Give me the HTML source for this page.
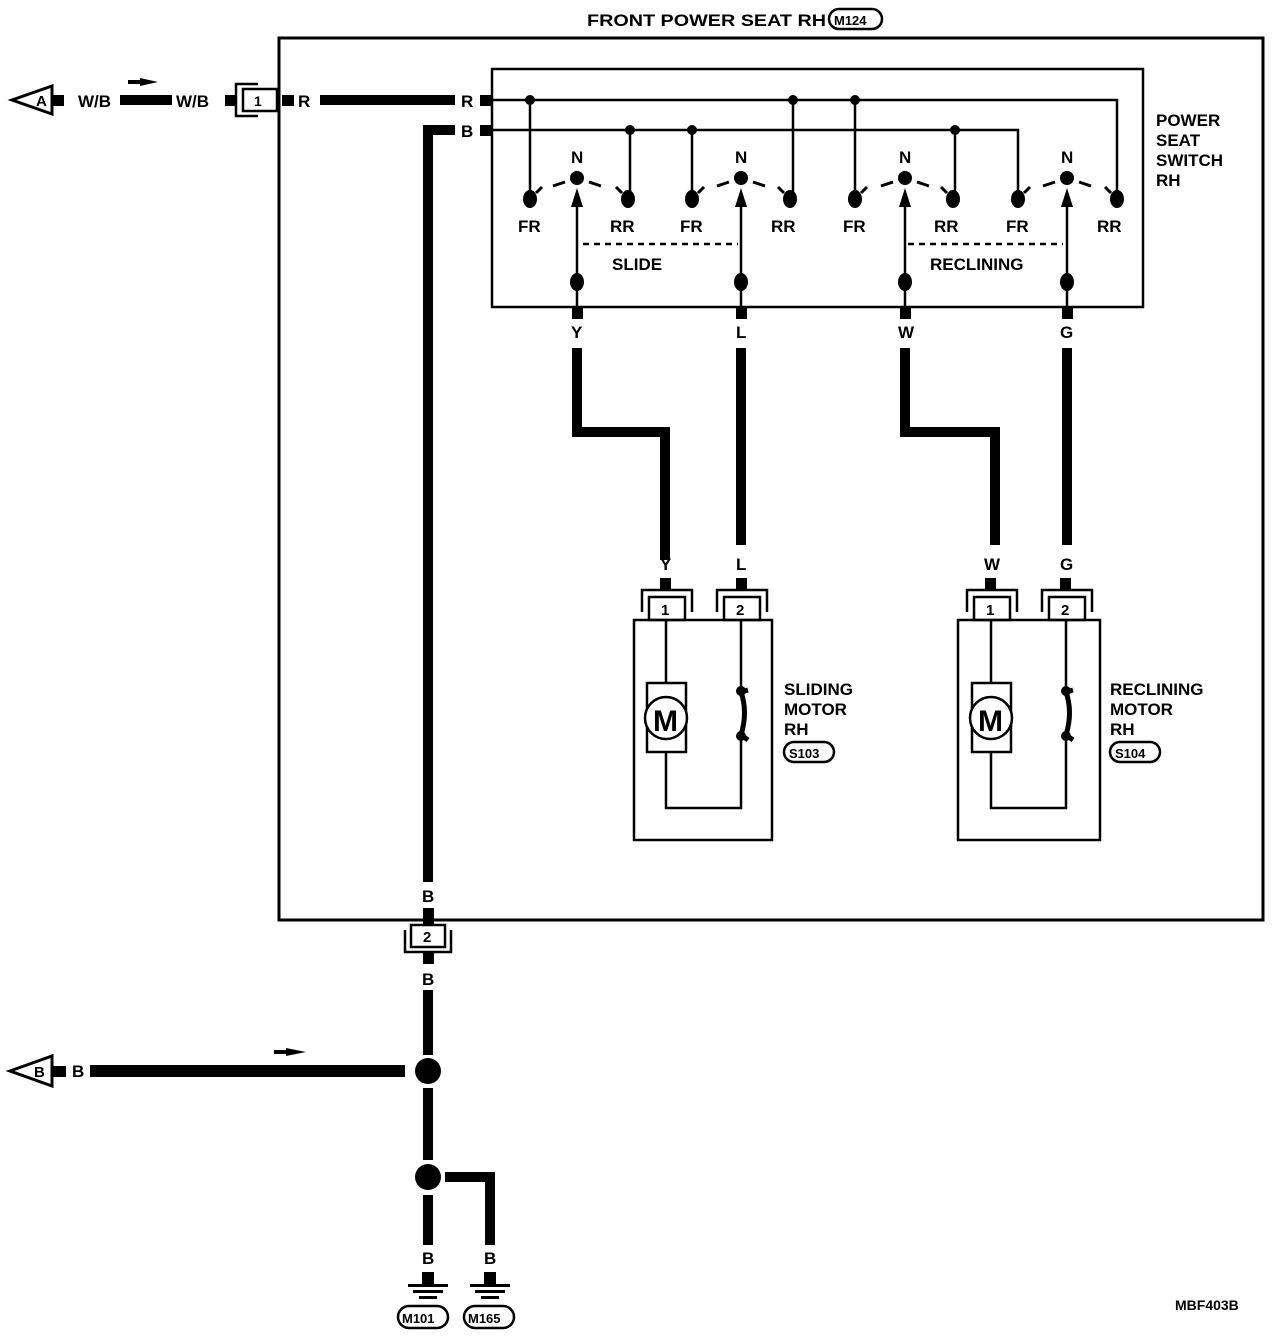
<!DOCTYPE html>
<html><head><meta charset="utf-8"><style>
html,body{margin:0;padding:0;background:#fff;}
svg{display:block;}
text{font-family:"Liberation Sans",Arial,sans-serif;fill:#000;font-weight:bold;}
</style></head><body>
<svg width="1280" height="1336" viewBox="0 0 1280 1336" xmlns="http://www.w3.org/2000/svg">
<g fill="none" stroke="#000">
<rect x="279" y="38" width="984" height="882" stroke-width="3"/>
<rect x="492" y="69" width="651" height="238" stroke-width="2.5"/>
<polyline points="490,100 1117,100 1117,198" stroke-width="2.5"/>
<polyline points="490,130 1018,130 1018,198" stroke-width="2.5"/>
<line x1="530" y1="100" x2="530" y2="198" stroke-width="2.5"/>
<line x1="793" y1="100" x2="793" y2="198" stroke-width="2.5"/>
<line x1="855" y1="100" x2="855" y2="198" stroke-width="2.5"/>
<line x1="630" y1="130" x2="630" y2="198" stroke-width="2.5"/>
<line x1="692" y1="130" x2="692" y2="198" stroke-width="2.5"/>
<line x1="955" y1="130" x2="955" y2="198" stroke-width="2.5"/>
<line x1="577" y1="307" x2="577" y2="195" stroke-width="2.5"/>
<line x1="741" y1="307" x2="741" y2="195" stroke-width="2.5"/>
<line x1="905" y1="307" x2="905" y2="195" stroke-width="2.5"/>
<line x1="1067" y1="307" x2="1067" y2="195" stroke-width="2.5"/>
<line x1="583" y1="244" x2="738" y2="244" stroke-width="2.5" stroke-dasharray="6,5"/>
<line x1="908" y1="244" x2="1063" y2="244" stroke-width="2.5" stroke-dasharray="6,5"/>
<line x1="320" y1="100" x2="455" y2="100" stroke-width="10"/>
<polyline points="455,130 428,130 428,882" stroke-width="10"/>
<line x1="120" y1="100" x2="172" y2="100" stroke-width="10"/>
<polyline points="577,348 577,432 665,432 665,560" stroke-width="10"/>
<line x1="741" y1="348" x2="741" y2="545" stroke-width="10"/>
<polyline points="905,348 905,432 995,432 995,545" stroke-width="10"/>
<line x1="1067" y1="348" x2="1067" y2="545" stroke-width="10"/>
<line x1="428" y1="990" x2="428" y2="1055" stroke-width="10"/>
<line x1="428" y1="1088" x2="428" y2="1160" stroke-width="10"/>
<line x1="428" y1="1195" x2="428" y2="1245" stroke-width="10"/>
<polyline points="445,1177 490,1177 490,1245" stroke-width="10"/>
<line x1="90" y1="1071" x2="405" y2="1071" stroke-width="12"/>
<rect x="634" y="620" width="138" height="220" stroke-width="2.5"/>
<rect x="958" y="620" width="142" height="220" stroke-width="2.5"/>
<polyline points="666,620 666,683" stroke-width="2.5"/>
<polyline points="666,752 666,808 741,808 741,735" stroke-width="2.5"/>
<polyline points="741,620 741,692" stroke-width="2.5"/>
<rect x="647" y="683" width="39" height="69" stroke-width="2.5" fill="#fff"/>
<circle cx="666" cy="718" r="21" stroke-width="2.5" fill="#fff"/>
<polyline points="991,620 991,683" stroke-width="2.5"/>
<polyline points="991,752 991,808 1066,808 1066,735" stroke-width="2.5"/>
<polyline points="1066,620 1066,692" stroke-width="2.5"/>
<rect x="972" y="683" width="39" height="69" stroke-width="2.5" fill="#fff"/>
<circle cx="991" cy="718" r="21" stroke-width="2.5" fill="#fff"/>
<path d="M741 692 L748 690 M741 692 Q748 712 741 735 L748 740" stroke-width="5"/>
<path d="M1066 692 L1073 690 M1066 692 Q1073 712 1066 735 L1073 740" stroke-width="5"/>
<g stroke-width="2.5">
<rect x="649" y="597" width="36" height="23"/><polyline points="642,612 642,590 692,590 692,612"/>
<rect x="724" y="597" width="36" height="23"/><polyline points="717,612 717,590 767,590 767,612"/>
<rect x="974" y="597" width="36" height="23"/><polyline points="967,612 967,590 1017,590 1017,612"/>
<rect x="1049" y="597" width="36" height="23"/><polyline points="1042,612 1042,590 1092,590 1092,612"/>
<rect x="243" y="89" width="34" height="22"/><polyline points="258,84 236,84 236,116 258,116"/>
<rect x="411" y="925" width="34" height="22"/><polyline points="405,930 405,952 451,952 451,930"/>
<polygon points="12,100 52,86 52,114" stroke-width="3"/>
<polygon points="10,1071 52,1056 52,1086" stroke-width="3"/>
<rect x="829" y="9" width="53" height="20" rx="10"/>
<rect x="784" y="742" width="50" height="20" rx="10"/>
<rect x="1110" y="742" width="50" height="20" rx="10"/>
<rect x="398" y="1306" width="50" height="22" rx="11"/>
<rect x="464" y="1306" width="50" height="22" rx="11"/>
</g>
</g>
<g fill="#000">
<rect x="52" y="95" width="12" height="11"/><rect x="225" y="95" width="10" height="11"/><rect x="282" y="95" width="12" height="11"/>
<rect x="480" y="95" width="12" height="11"/><rect x="480" y="125" width="12" height="11"/>
<rect x="572" y="307" width="11" height="12"/><rect x="736" y="307" width="11" height="12"/><rect x="900" y="307" width="11" height="12"/><rect x="1062" y="307" width="11" height="12"/>
<rect x="660" y="578" width="11" height="12"/><rect x="736" y="578" width="11" height="12"/><rect x="985" y="578" width="11" height="12"/><rect x="1060" y="578" width="11" height="12"/>
<rect x="423" y="908" width="11" height="17"/><rect x="423" y="952" width="11" height="12"/>
<rect x="52" y="1066" width="14" height="11"/>
<circle cx="530" cy="100" r="5"/><circle cx="793" cy="100" r="5"/><circle cx="855" cy="100" r="5"/>
<circle cx="630" cy="130" r="5"/><circle cx="692" cy="130" r="5"/><circle cx="955" cy="130" r="5"/>
<ellipse cx="530" cy="199" rx="7" ry="9"/><ellipse cx="628" cy="199" rx="7" ry="9"/>
<ellipse cx="692" cy="199" rx="7" ry="9"/><ellipse cx="790" cy="199" rx="7" ry="9"/>
<ellipse cx="855" cy="199" rx="7" ry="9"/><ellipse cx="953" cy="199" rx="7" ry="9"/>
<ellipse cx="1018" cy="199" rx="7" ry="9"/><ellipse cx="1117" cy="199" rx="7" ry="9"/>
<circle cx="577" cy="178" r="7"/><circle cx="741" cy="178" r="7"/><circle cx="905" cy="178" r="7"/><circle cx="1067" cy="178" r="7"/>
<ellipse cx="577" cy="282" rx="7" ry="9"/><ellipse cx="741" cy="282" rx="7" ry="9"/><ellipse cx="905" cy="282" rx="7" ry="9"/><ellipse cx="1067" cy="282" rx="7" ry="9"/>
<polygon points="577,188 571,207 583,207"/><polygon points="741,188 735,207 747,207"/><polygon points="905,188 899,207 911,207"/><polygon points="1067,188 1061,207 1073,207"/>
<circle cx="741" cy="691" r="5"/><circle cx="741" cy="736" r="5"/><circle cx="1066" cy="691" r="5"/><circle cx="1066" cy="736" r="5"/>
<circle cx="428" cy="1071" r="13"/><circle cx="428" cy="1177" r="13"/>
<polygon points="140,78 158,82 140,86"/><rect x="128" y="80" width="14" height="4"/>
<polygon points="286,1048 306,1052 286,1056"/><rect x="274" y="1050" width="14" height="4"/>
<rect x="422" y="1272" width="12" height="12"/><rect x="408" y="1284" width="40" height="3"/><rect x="413" y="1290" width="30" height="3"/><rect x="419" y="1296" width="18" height="3"/>
<rect x="484" y="1272" width="12" height="12"/><rect x="470" y="1284" width="40" height="3"/><rect x="475" y="1290" width="30" height="3"/><rect x="481" y="1296" width="18" height="3"/>
</g>
<g stroke="#000" stroke-width="3" fill="none">
<path d="M565 182 L553 186 M589 182 L601 186"/><path d="M729 182 L717 186 M753 182 L765 186"/>
<path d="M893 182 L881 186 M917 182 L929 186"/><path d="M1055 182 L1043 186 M1079 182 L1091 186"/>
<path d="M536 193 L542 187"/><path d="M622 193 L616 187"/><path d="M698 193 L704 187"/><path d="M784 193 L778 187"/>
<path d="M861 193 L867 187"/><path d="M947 193 L941 187"/><path d="M1024 193 L1030 187"/><path d="M1111 193 L1105 187"/>
</g>
<g font-size="17">
<text x="587" y="26" textLength="239" lengthAdjust="spacingAndGlyphs">FRONT POWER SEAT RH</text>
<text x="834" y="25" font-size="13">M124</text>
<text x="78" y="107">W/B</text><text x="176" y="107">W/B</text>
<text x="36" y="106" font-size="15">A</text>
<text x="254" y="106" font-size="14">1</text>
<text x="298" y="107">R</text><text x="461" y="107">R</text><text x="461" y="137">B</text>
<text x="1156" y="126">POWER</text><text x="1156" y="146">SEAT</text><text x="1156" y="166">SWITCH</text><text x="1156" y="186">RH</text>
<text x="571" y="163">N</text><text x="735" y="163">N</text><text x="899" y="163">N</text><text x="1061" y="163">N</text>
<text x="518" y="232">FR</text><text x="610" y="232">RR</text><text x="680" y="232">FR</text><text x="771" y="232">RR</text>
<text x="843" y="232">FR</text><text x="934" y="232">RR</text><text x="1006" y="232">FR</text><text x="1097" y="232">RR</text>
<text x="612" y="270">SLIDE</text><text x="930" y="270">RECLINING</text>
<text x="571" y="338">Y</text><text x="736" y="338">L</text><text x="898" y="338">W</text><text x="1060" y="338">G</text>
<text x="660" y="570">Y</text><text x="736" y="570">L</text><text x="984" y="570">W</text><text x="1060" y="570">G</text>
<text x="661" y="615" font-size="15">1</text><text x="736" y="615" font-size="15">2</text>
<text x="986" y="615" font-size="15">1</text><text x="1061" y="615" font-size="15">2</text>
<text x="653" y="731" font-size="30">M</text><text x="978" y="731" font-size="30">M</text>
<text x="784" y="695">SLIDING</text><text x="784" y="715">MOTOR</text><text x="784" y="735">RH</text>
<text x="789" y="758" font-size="13">S103</text>
<text x="1110" y="695">RECLINING</text><text x="1110" y="715">MOTOR</text><text x="1110" y="735">RH</text>
<text x="1115" y="758" font-size="13">S104</text>
<text x="422" y="902">B</text><text x="423" y="942" font-size="15">2</text><text x="422" y="985">B</text>
<text x="34" y="1077" font-size="15">B</text><text x="72" y="1077">B</text>
<text x="422" y="1264">B</text><text x="484" y="1264">B</text>
<text x="402" y="1323" font-size="13">M101</text><text x="468" y="1323" font-size="13">M165</text>
<text x="1175" y="1310" font-size="14">MBF403B</text>
</g>
</svg>
</body></html>
